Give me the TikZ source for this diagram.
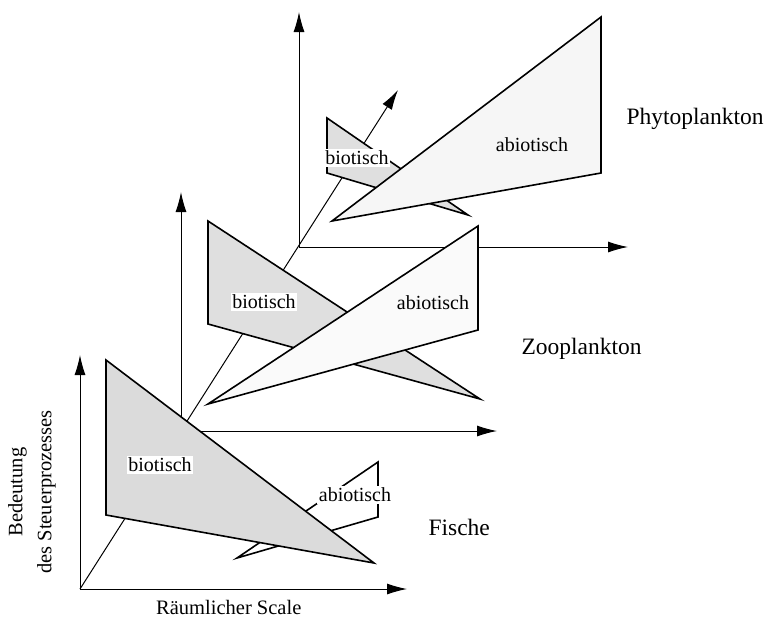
\documentclass[tikz,border=0pt]{standalone}
\usepackage{fontspec}
\setmainfont{Liberation Serif}
\usetikzlibrary{arrows.meta}

\begin{document}
\begin{tikzpicture}[x=1pt, y=-1pt,
    axis/.style={line width=1pt, -{Latex[length=20pt,width=11pt]}},
    bio/.style={fill=gray!25, draw=black, line width=1.6pt},
    abio/.style={fill=gray!7, draw=black, line width=1.6pt},
    lbl/.style={fill=white, inner sep=1.5pt, font=\fontsize{20}{24}\selectfont},
    group/.style={anchor=base west, font=\fontsize{23.5}{28}\selectfont}]
  \useasboundingbox (0,0) rectangle (767,619);

  % origins of the three stacked systems and the arrow tips
  \coordinate (fo) at (80,589);
  \coordinate (zo) at (181,431);
  \coordinate (po) at (299,247);
  \coordinate (depth) at (398,90);

  % shared depth axis
  \draw[axis] (fo) -- (depth);

  % Phytoplankton
  \coordinate (pup) at (299,12);
  \coordinate (pright) at (628,247);
  \draw[axis] (po) -- (pup);
  \draw[axis] (po) -- (pright);
  \filldraw[bio] (327,118) -- (327,173) -- (468,215) -- cycle;
  \filldraw[abio] (601,17) -- (601,173) -- (332,221) -- cycle;

  % Zooplankton
  \coordinate (zup) at (181,192);
  \coordinate (zright) at (497,431);
  \draw[axis] (zo) -- (zup);
  \draw[axis] (zo) -- (zright);
  \filldraw[bio] (208,221) -- (208,324) -- (480,399) -- cycle;
  \filldraw[abio, fill=gray!4] (478,226) -- (478,330) -- (208,404) -- cycle;

  % Fische
  \coordinate (fup) at (80,355);
  \coordinate (fright) at (407,589);
  \draw[axis] (fo) -- (fup);
  \draw[axis] (fo) -- (fright);
  \filldraw[abio, fill=white] (378,462) -- (378,517) -- (237,558) -- cycle;
  \filldraw[bio, fill=gray!28] (106,360) -- (106,515) -- (374,563) -- cycle;

  % labels on the planes
  \node[lbl] (pbio) at (357,158) {biotisch};
  \node[lbl, fill=gray!7] (pabio) at (532,145) {abiotisch};
  \node[lbl] (zbio) at (264,302) {biotisch};
  \node[lbl, fill=gray!4] (zabio) at (433,303) {abiotisch};
  \node[lbl] (fbio) at (160,465) {biotisch};
  \node[lbl] (fabio) at (355,495) {abiotisch};

  % group names
  \node[group] (phyto) at (623,124) {Phytoplankton};
  \node[group] (zoo) at (518,354) {Zooplankton};
  \node[group] (fisch) at (425,535) {Fische};

  % axis titles
  \node[anchor=base west, inner sep=1pt, font=\fontsize{20.5}{24}\selectfont] (xlab) at (155,614) {Räumlicher Scale};
  \node[rotate=90, align=center, font=\fontsize{20.5}{29}\selectfont] (ylab) at (32,492) {Bedeutung\\des Steuerprozesses};
\end{tikzpicture}
\end{document}
